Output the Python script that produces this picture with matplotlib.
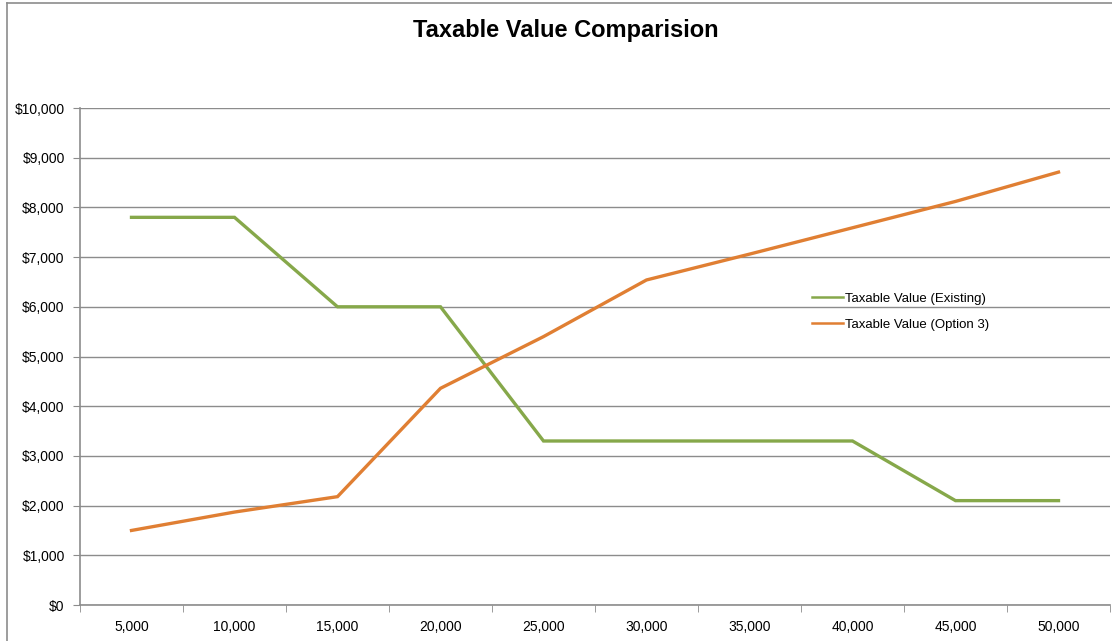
import matplotlib.pyplot as plt
from matplotlib.lines import Line2D
from matplotlib.ticker import FixedLocator, FuncFormatter

plt.rcParams['font.family'] = ['Liberation Sans', 'DejaVu Sans']

categories = ['5,000', '10,000', '15,000', '20,000', '25,000',
              '30,000', '35,000', '40,000', '45,000', '50,000']
existing = [7800, 7800, 6000, 6000, 3300, 3300, 3300, 3300, 2100, 2100]
option3 = [1500, 1870, 2180, 4360, 5400, 6540, 7060, 7590, 8120, 8710]

W, H = 1112, 641
fig = plt.figure(figsize=(W / 100, H / 100), dpi=100)
ax = fig.add_axes([80 / W, (H - 605) / H, 1030 / W, (605 - 108) / H])

x = list(range(len(categories)))
ax.plot(x, existing, color='#86a84a', lw=2.4, label='Taxable Value (Existing)',
        solid_joinstyle='miter')
ax.plot(x, option3, color='#e07f33', lw=2.4, label='Taxable Value (Option 3)',
        solid_joinstyle='miter')

ax.set_xlim(-0.5, len(categories) - 0.5)
ax.set_ylim(0, 10000)
ax.set_yticks(range(0, 10001, 1000))
ax.yaxis.set_major_formatter(FuncFormatter(lambda v, p: '${:,.0f}'.format(v)))
ax.yaxis.grid(True, color='#8c8c8c', lw=1)
ax.set_axisbelow(True)

ax.set_xticks(x)
ax.set_xticklabels(categories)
ax.xaxis.set_minor_locator(FixedLocator([i - 0.5 for i in range(len(categories) + 1)]))
ax.tick_params(axis='x', which='major', length=0, pad=11, labelsize=10)
ax.tick_params(axis='x', which='minor', length=5, color='#8c8c8c', direction='out')
ax.tick_params(axis='y', length=5, color='#8c8c8c', pad=6, labelsize=10)

for s in ['top', 'right']:
    ax.spines[s].set_visible(False)
for s in ['left', 'bottom']:
    ax.spines[s].set_color('#8c8c8c')
    ax.spines[s].set_linewidth(1.2)

leg = ax.legend(loc='upper left', bbox_to_anchor=(727 / 1030, (605 - 287) / 497),
                frameon=False, fontsize=9.5, handlelength=2.3, handletextpad=0.15,
                labelspacing=1.05, borderaxespad=0)
for h in leg.get_lines():
    h.set_linewidth(1.8)

fig.text(0.509, 1 - 30 / H, 'Taxable Value Comparision', ha='center', va='center',
         fontsize=17, fontweight='bold')

# outer chart border
fig.add_artist(Line2D([7 / W, 7 / W], [0, 1 - 3 / H], color='#8c8c8c', lw=1.2))
fig.add_artist(Line2D([7 / W, 1], [1 - 3 / H, 1 - 3 / H], color='#8c8c8c', lw=1.2))

fig.savefig('out.png', dpi=100)
